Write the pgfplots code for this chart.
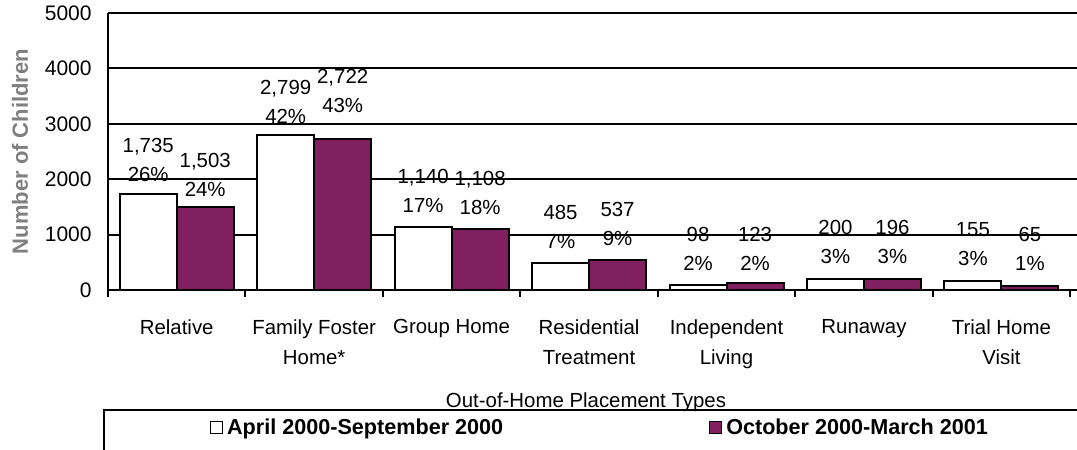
\documentclass[border=0pt]{standalone}
\usepackage{fontspec}
\setmainfont{Liberation Sans}
\usepackage{pgfplots}
\pgfplotsset{compat=1.18}
\usepackage{pgfplotstable}

\definecolor{plum}{RGB}{128,32,96}
\definecolor{labelgray}{RGB}{128,128,128}

% x = category index, y = children, dy = label lift (pt), lab = value / share
\pgfplotstableread{
x y dy lab
0 1735 5.6 {1,735\\26\%}
1 2799 5.4 {2,799\\42\%}
2 1140 6.8 {1,140\\17\%}
3 485 7.0 {485\\7\%}
4 98 6.7 {98\\2\%}
5 200 7.0 {200\\3\%}
6 155 7.4 {155\\3\%}
}\periodA

\pgfplotstableread{
x y dy lab
0 1503 4.8 {1,503\\24\%}
1 2722 12.6 {2,722\\43\%}
2 1108 6.7 {1,108\\18\%}
3 537 7.0 {537\\9\%}
4 123 6.0 {123\\2\%}
5 196 7.0 {196\\3\%}
6 65 7.2 {65\\1\%}
}\periodB

\begin{document}
\begin{tikzpicture}
\begin{axis}[
  scale only axis,
  width=484.5pt, height=138.5pt,
  xmin=-0.5, xmax=6.55, ymin=0, ymax=5000,
  enlargelimits=false, clip=false,
  axis lines=left, axis line style={-, line width=1pt, black},
  ybar=0pt, bar width=28.5pt,
  xtick={0,...,6},
  xticklabels={Relative, {Family Foster\\Home*}, Group Home,
    {Residential\\Treatment}, {Independent\\Living}, Runaway, {Trial Home\\Visit}},
  minor xtick={-0.5,0.5,...,6.5},
  major tick length=0pt, minor tick length=3.5pt,
  tick style={black, line width=1pt},
  ytick={0,1000,...,5000},
  ymajorgrids, grid style={black, line width=1pt},
  /pgf/number format/.cd, 1000 sep={}, assume math mode=true, /pgfplots/.cd,
  yticklabel style={font=\fontsize{10.5}{12}\selectfont, inner sep=0pt, xshift=-8pt},
  xticklabel style={font=\fontsize{10.2}{15}\selectfont, align=center, inner sep=0pt,
    anchor=north, yshift=-14.5pt},
  ylabel={Number of Children},
  ylabel style={at={(axis description cs:-0.0908,0.5)}, anchor=center,
    font=\bfseries\fontsize{11}{12}\selectfont, text=labelgray},
  xlabel={Out-of-Home Placement Types},
  xlabel style={at={(axis description cs:0.4933,-0.404)}, anchor=center,
    font=\fontsize{10.2}{12}\selectfont},
  point meta=explicit symbolic,
  visualization depends on={\thisrow{dy} \as \dy},
  nodes near coords,
  every node near coord/.append style={anchor=south, inner sep=0pt, align=center,
    font=\fontsize{10.2}{14.5}\selectfont, text=black, yshift=\dy pt},
  legend columns=2,
  legend image code/.code={\draw[#1, line width=0.5pt] (0pt,-3pt) rectangle (6pt,3pt);},
  legend style={at={(axis description cs:0.105,-0.498)}, anchor=west, draw=none,
    fill=none, inner sep=0pt, font=\bfseries\fontsize{10.8}{12}\selectfont,
    /tikz/every even column/.append style={column sep=101pt}},
]
\addplot[fill=white, draw=black, line width=1pt] table[x=x, y=y, meta=lab] {\periodA};
\addplot[fill=plum, draw=black, line width=1pt] table[x=x, y=y, meta=lab] {\periodB};
\legend{April 2000-September 2000, October 2000-March 2001}
\end{axis}
\draw[line width=1pt] ([xshift=-2pt,yshift=-120pt]current axis.south west)
  |- ([xshift=520pt,yshift=-60pt]current axis.south west);
\pgfresetboundingbox
\path[use as bounding box] ([xshift=-54pt,yshift=-80pt]current axis.south west)
  rectangle ([xshift=484.5pt,yshift=145pt]current axis.south west);
\end{tikzpicture}
\end{document}
